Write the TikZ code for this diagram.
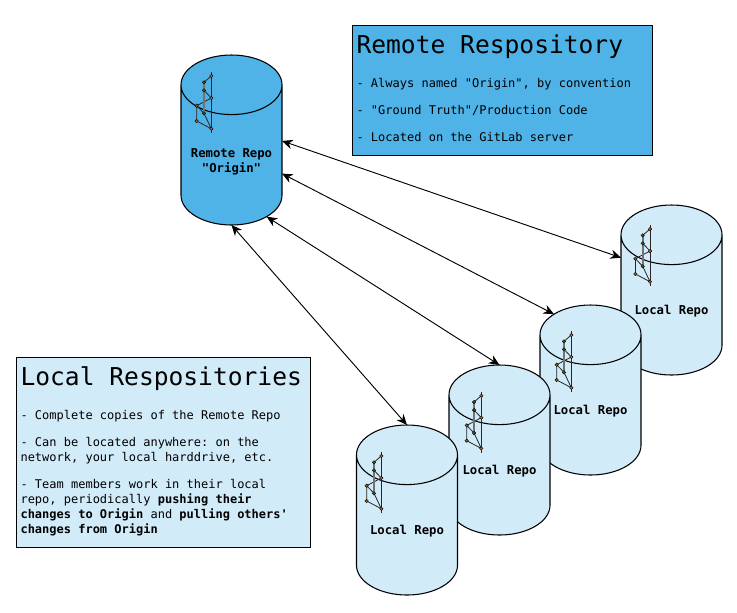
\documentclass[tikz,border=0pt]{standalone}
\usepackage{fontspec}
\setmonofont{DejaVu Sans Mono}
\usetikzlibrary{shapes.geometric,arrows.meta}

\definecolor{remote_blue}{HTML}{4FB3E8}
\definecolor{local_blue}{HTML}{D2EBF9}
\definecolor{dot_red}{HTML}{C8603A}
\definecolor{dot_olive}{HTML}{8A6A1E}
\definecolor{dot_green}{HTML}{3E5A2A}

\begin{document}
\begin{tikzpicture}[x=0.75pt,y=-0.75pt]
     \tikzstyle{repo_style} = [cylinder,shape border rotate=90,shape aspect=0.59,draw=black,line width=0.8pt,anchor=shape center,
        inner xsep=37.875pt,inner ysep=0pt,minimum height=127.5pt,outer sep=0pt]
     \tikzstyle{repo_text} = [font=\ttfamily\bfseries\fontsize{9.2}{11.25}\selectfont,align=flush center,inner sep=0pt]
     \tikzstyle{note_style} = [draw=black,line width=0.8pt,anchor=north west,align=flush left,inner xsep=3pt,inner ysep=0pt,
        font=\ttfamily\fontsize{9}{11.25}\selectfont]
     \tikzstyle{edge_style} = [black,line width=0.7pt,{Stealth[length=8pt,width=7pt]}-{Stealth[length=8pt,width=7pt]}]
     \tikzstyle{dot_style} = [circle,draw=black,line width=0.3pt,inner sep=0pt,minimum size=2.6pt]
     \tikzset{repo_icon/.pic={
        \draw[black!85,line width=0.6pt] (0,-4) -- (0,57);
        \draw[black!85,line width=0.6pt] (0,0) -- (-7.3,6.3) (-7.3,14.3) -- (0,22) -- (-14.6,29.7) -- (-7.3,37.3) -- (0,52.7)
            -- (-14.6,45) -- (-14.6,29.7);
        \draw[black!55,line width=1.4pt] (-7.3,6.3) -- (-7.3,37.3);
        \node[dot_style,fill=dot_red] at (0,0) {};
        \node[dot_style,fill=dot_green] at (-7.3,6.3) {};
        \node[dot_style,fill=dot_green] at (-7.3,14.3) {};
        \node[dot_style,fill=dot_red] at (0,22) {};
        \node[dot_style,fill=dot_olive] at (-14.6,29.7) {};
        \node[dot_style,fill=dot_green] at (-7.3,37.3) {};
        \node[dot_style,fill=dot_olive] at (-14.6,45) {};
        \node[dot_style,fill=dot_red] at (0,52.7) {};
     }}
     \useasboundingbox (0,0) rectangle (737,612);

     \node[repo_style,fill=remote_blue] (origin) at (231.5,140) {};
     \pic at (211.3,76) {repo_icon};
     \node[repo_text] (origin_text) at (231.5,162) {Remote Repo\\"Origin"};

     \node[repo_style,fill=local_blue] (local1) at (671.5,290) {};
     \pic at (650,229) {repo_icon};
     \node[repo_text] (local1_text) at (671.5,311) {Local Repo};

     \node[repo_style,fill=local_blue] (local2) at (590.5,390) {};
     \pic at (571.3,335) {repo_icon};
     \node[repo_text] (local2_text) at (590.5,411) {Local Repo};

     \node[repo_style,fill=local_blue] (local3) at (499.5,450) {};
     \pic at (481.3,395.7) {repo_icon};
     \node[repo_text] (local3_text) at (499.5,471) {Local Repo};

     \node[repo_style,fill=local_blue] (local4) at (407,510) {};
     \pic at (381.3,456) {repo_icon};
     \node[repo_text] (local4_text) at (407,531) {Local Repo};

     \draw[edge_style] (origin.30) -- (local1.129);
     \draw[edge_style] (origin.-4) -- (local2.109);
     \draw[edge_style] (origin.-53) -- (local3.90);
     \draw[edge_style] (origin.-90) -- (local4.90);

     \node[note_style,fill=remote_blue,text width=219pt,minimum height=97.5pt] (remote_note) at (352,25) {%
        {\fontsize{18.45}{20}\selectfont Remote Respository}\\[14.75pt]
        - Always named "Origin", by convention\\[9pt]
        - "Ground Truth"/Production Code\\[9pt]
        - Located on the GitLab server\rule[-3.75pt]{0pt}{0pt}};

     \node[note_style,fill=local_blue,text width=214.5pt,minimum height=142.5pt] (local_note) at (16,357) {%
        {\fontsize{18.45}{20}\selectfont Local Respositories}\\[14.25pt]
        - Complete copies of the Remote Repo\\[9pt]
        - Can be located anywhere: on the\\
        network, your local harddrive, etc.\\[9pt]
        - Team members work in their local\\
        repo, periodically \textbf{pushing their}\\
        \textbf{changes to Origin} and \textbf{pulling others'}\\
        \textbf{changes from Origin}\rule[-3.75pt]{0pt}{0pt}};
\end{tikzpicture}
\end{document}
